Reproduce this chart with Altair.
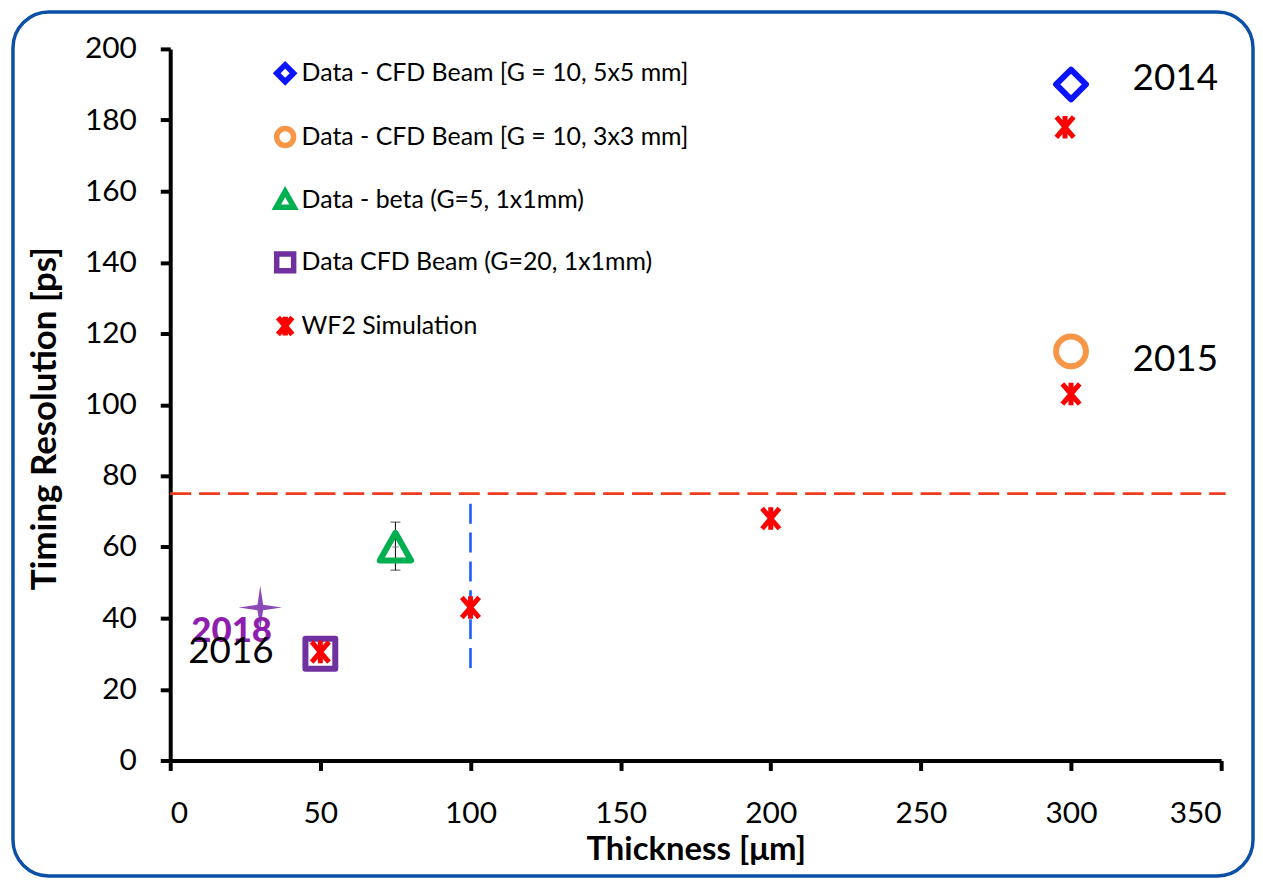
import altair as alt
import pandas as pd

# ---- data ----
series_names = [
    "Data - CFD Beam [G = 10, 5x5 mm]",
    "Data - CFD Beam [G = 10, 3x3 mm]",
    "Data - beta (G=5, 1x1mm)",
    "Data CFD Beam (G=20, 1x1mm)",
    "WF2 Simulation",
]
series_colors = ["#0a14ff", "#f79646", "#00b050", "#7030a0", "#ff0000"]

pt_series = [
    "Data - CFD Beam [G = 10, 5x5 mm]",
    "Data - CFD Beam [G = 10, 3x3 mm]",
    "Data - beta (G=5, 1x1mm)",
    "Data CFD Beam (G=20, 1x1mm)",
    "WF2 Simulation",
    "WF2 Simulation",
    "WF2 Simulation",
    "WF2 Simulation",
    "WF2 Simulation",
]
pt_x = [300, 300, 75, 50, 50, 100, 200, 298, 300]
pt_y = [190, 115, 60, 30, 30.5, 43, 68, 178, 103]

# beta measurement error bars
err_x = [75]
err_y = [60]
err_ylo = [53.5]
err_yhi = [67]
err_xlo = [74]
err_xhi = [76]

# 2018 point (star)
star_x = [30]
star_y = [43]

# reference lines
hline_y = [75]
hline_x0 = [0]
hline_x1 = [351.5]
vline_x = [100]
vline_y0 = [26]
vline_y1 = [74]

# year annotations
year_text = ["2014", "2015", "2016"]
year_x = [320.5, 320.5, 6.0]
year_y = [191.5, 112.5, 30.5]
y2018_text = ["2018"]
y2018_x = [7.0]
y2018_y = [36.3]

x_ticks = [0, 50, 100, 150, 200, 250, 300, 350]
y_ticks = [0, 20, 40, 60, 80, 100, 120, 140, 160, 180, 200]

FONT = "Lato"

# shapes
tri_path = "M0,-0.95L1.05,0.9L-1.05,0.9Z"
ast_path = "M-0.85,-1L0.85,1M0.85,-1L-0.85,1M0,-1.1L0,1.1"
star_path = "M0,-1L0.13,-0.13L1,0L0.13,0.13L0,1L-0.13,0.13L-1,0L-0.13,-0.13Z"
series_shapes = ["diamond", "circle", tri_path, "square", ast_path]

xscale = alt.Scale(domain=[0, 350], nice=False, zero=False)
yscale = alt.Scale(domain=[0, 200], nice=False, zero=False)

W, H = 1056, 715

pts = pd.DataFrame({"series": pt_series, "x": pt_x, "y": pt_y})
errdf = pd.DataFrame({"x": err_x, "y": err_y, "ylo": err_ylo, "yhi": err_yhi,
                      "xlo": err_xlo, "xhi": err_xhi})
stardf = pd.DataFrame({"x": star_x, "y": star_y})
hdf = pd.DataFrame({"y": hline_y, "x0": hline_x0, "x1": hline_x1})
vdf = pd.DataFrame({"x": vline_x, "y0": vline_y0, "y1": vline_y1})
ydf = pd.DataFrame({"t": year_text, "x": year_x, "y": year_y})
y18df = pd.DataFrame({"t": y2018_text, "x": y2018_x, "y": y2018_y})

xaxis = alt.Axis(values=x_ticks, title="Thickness [\u03bcm]", grid=False,
                 labelPadding=28, titlePadding=6, titleFontSize=33)
yaxis = alt.Axis(values=y_ticks, title="Timing Resolution [ps]", grid=False,
                 labelPadding=24, titlePadding=22, titleFontSize=35, titleY=371)

frame = alt.Chart(pd.DataFrame({"a": [0]})).mark_rect(
    fillOpacity=0, stroke="#0b4fa6", strokeWidth=3.5, cornerRadius=36
).encode(
    x=alt.value(-158), x2=alt.value(1088), y=alt.value(-37), y2=alt.value(831)
)

hline = alt.Chart(hdf).mark_rule(
    color="#f03c1e", strokeWidth=2.6, strokeDash=[21, 8]
).encode(
    x=alt.X("x0:Q", scale=xscale, axis=xaxis),
    x2="x1:Q",
    y=alt.Y("y:Q", scale=yscale, axis=yaxis),
)

vline = alt.Chart(vdf).mark_rule(
    color="#1a5cff", strokeWidth=2.6, strokeDash=[20, 9]
).encode(
    x=alt.X("x:Q", scale=xscale),
    y=alt.Y("y0:Q", scale=yscale),
    y2="y1:Q",
)

err_v = alt.Chart(errdf).mark_rule(color="black", strokeWidth=1).encode(
    x=alt.X("x:Q", scale=xscale), y=alt.Y("ylo:Q", scale=yscale), y2="yhi:Q"
)
err_cap_lo = alt.Chart(errdf).mark_tick(color="black", thickness=1, size=10, orient="horizontal").encode(
    x=alt.X("x:Q", scale=xscale), y=alt.Y("ylo:Q", scale=yscale)
)
err_cap_hi = alt.Chart(errdf).mark_tick(color="black", thickness=1, size=10, orient="horizontal").encode(
    x=alt.X("x:Q", scale=xscale), y=alt.Y("yhi:Q", scale=yscale)
)
err_h = alt.Chart(errdf).mark_rule(color="#777777", strokeWidth=1).encode(
    x=alt.X("xlo:Q", scale=xscale), x2="xhi:Q", y=alt.Y("y:Q", scale=yscale)
)

points = alt.Chart(pts).mark_point(
    filled=False, strokeWidth=6, strokeJoin="round", opacity=1
).encode(
    x=alt.X("x:Q", scale=xscale),
    y=alt.Y("y:Q", scale=yscale),
    color=alt.Color("series:N", scale=alt.Scale(domain=series_names, range=series_colors),
                    legend=alt.Legend(title=None)),
    shape=alt.Shape("series:N", scale=alt.Scale(domain=series_names, range=series_shapes),
                    legend=alt.Legend(title=None)),
    size=alt.condition(alt.datum.series == "WF2 Simulation", alt.value(420), alt.value(900)),
    strokeWidth=alt.condition(alt.datum.series == "WF2 Simulation", alt.value(5), alt.value(6)),
)

star = alt.Chart(stardf).mark_point(
    filled=True, shape=star_path, size=1900, color="#8a4bb8", opacity=1
).encode(x=alt.X("x:Q", scale=xscale), y=alt.Y("y:Q", scale=yscale))

years = alt.Chart(ydf).mark_text(
    font=FONT, fontSize=37, color="black", align="left", baseline="middle"
).encode(x=alt.X("x:Q", scale=xscale), y=alt.Y("y:Q", scale=yscale), text="t:N")

y18 = alt.Chart(y18df).mark_text(
    font=FONT, fontSize=35, fontWeight=900, color="#8e1fae", align="left", baseline="middle"
).encode(x=alt.X("x:Q", scale=xscale), y=alt.Y("y:Q", scale=yscale), text="t:N")

chart = alt.layer(
    frame, hline, vline, err_v, err_cap_lo, err_cap_hi, err_h, points, star, y18, years
).properties(
    width=W, height=H,
    padding={"left": 163, "top": 39, "right": 34, "bottom": 118},
    autosize=alt.AutoSizeParams(type="none"),
).configure_view(stroke=None).configure_axis(
    labelFont=FONT, labelFontSize=30, labelColor="black",
    titleFont=FONT, titleFontWeight="bold", titleColor="black",
    domainColor="black", domainWidth=4, tickColor="black", tickWidth=4, tickSize=10,
).configure_legend(
    orient="none", legendX=103, legendY=12, padding=0,
    labelFont=FONT, labelFontSize=25, labelColor="black", labelLimit=800,
    symbolSize=290, symbolStrokeWidth=5.5, rowPadding=23, labelOffset=4,
)

chart.save("out.html", embed_options={"renderer": "svg", "actions": False})
